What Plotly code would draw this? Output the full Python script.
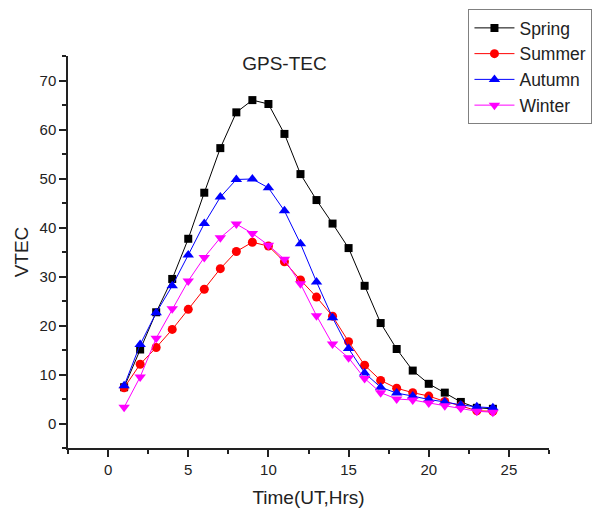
import plotly.graph_objects as go

hours = list(range(1, 25))
spring = [7.4, 15.1, 22.7, 29.5, 37.7, 47.1, 56.2, 63.5, 66.0, 65.2, 59.1, 50.9,
          45.6, 40.8, 35.8, 28.1, 20.5, 15.2, 10.8, 8.1, 6.3, 4.4, 3.2, 3.0]
summer = [7.3, 12.1, 15.5, 19.2, 23.3, 27.4, 31.6, 35.1, 37.0, 36.2, 33.0, 29.3,
          25.8, 21.9, 16.7, 11.9, 8.8, 7.2, 6.3, 5.6, 4.5, 3.6, 2.6, 2.5]
autumn = [7.7, 16.1, 22.6, 28.1, 34.4, 40.8, 46.2, 49.8, 49.9, 48.1, 43.4, 36.7,
          28.9, 21.6, 15.3, 10.3, 7.4, 6.2, 5.6, 4.9, 4.4, 3.8, 3.4, 3.2]
winter = [3.3, 9.5, 17.4, 23.4, 29.1, 33.9, 37.9, 40.7, 38.8, 36.4, 33.5, 28.5,
          22.0, 16.2, 13.4, 9.2, 6.3, 5.0, 4.8, 4.2, 3.6, 3.1, 2.5, 2.3]

series = [
    ("Spring", spring, "#000000", "square", 8),
    ("Summer", summer, "#ff0000", "circle", 9),
    ("Autumn", autumn, "#0000ff", "triangle-up", 10),
    ("Winter", winter, "#ff00ff", "triangle-down", 10),
]

FONT = "Liberation Sans, Arial, sans-serif"

fig = go.Figure()
for name, vals, col, sym, sz in series:
    fig.add_trace(go.Scatter(
        x=hours, y=vals, name=name, mode="lines+markers",
        line=dict(color=col, width=1),
        marker=dict(symbol=sym, size=sz, color=col, line=dict(width=0)),
    ))

fig.update_layout(
    width=596, height=508,
    margin=dict(l=68, r=47, t=56, b=60, autoexpand=False),
    paper_bgcolor="white", plot_bgcolor="white",
    font=dict(family=FONT, color="#222222"),
    title=dict(text="GPS-TEC", x=0.45, xref="paper", xanchor="center",
               y=1 - 63 / 508, yref="container", yanchor="middle",
               font=dict(size=19, color="#222222")),
    legend=dict(x=0.786, xref="container", xanchor="left",
                y=1 - 9 / 508, yref="container", yanchor="top",
                bordercolor="#808080", borderwidth=1, bgcolor="white",
                itemwidth=40,
                font=dict(size=17.5, color="#222222"), tracegroupgap=0),
    showlegend=True,
)
fig.update_xaxes(
    range=[-2.5, 27.5], tick0=0, dtick=5, showgrid=False, zeroline=False,
    showline=True, linecolor="#222222", linewidth=1.5, automargin=False,
    ticks="outside", ticklen=7, tickwidth=1.5, tickcolor="#222222",
    minor=dict(dtick=2.5, tick0=0, ticks="outside", ticklen=4, tickwidth=1.5, tickcolor="#222222"),
    tickfont=dict(size=15),
    title=dict(text="Time(UT,Hrs)", font=dict(size=19), standoff=14),
)
fig.update_yaxes(
    range=[-5, 75], tick0=0, dtick=10, showgrid=False, zeroline=False,
    showline=True, linecolor="#222222", linewidth=1.5, automargin=False,
    ticks="outside", ticklen=7, tickwidth=1.5, tickcolor="#222222",
    minor=dict(dtick=5, tick0=0, ticks="outside", ticklen=4, tickwidth=1.5, tickcolor="#222222"),
    tickfont=dict(size=15),
    title=dict(text="VTEC", font=dict(size=19), standoff=6),
)

fig.write_html("out.html")
